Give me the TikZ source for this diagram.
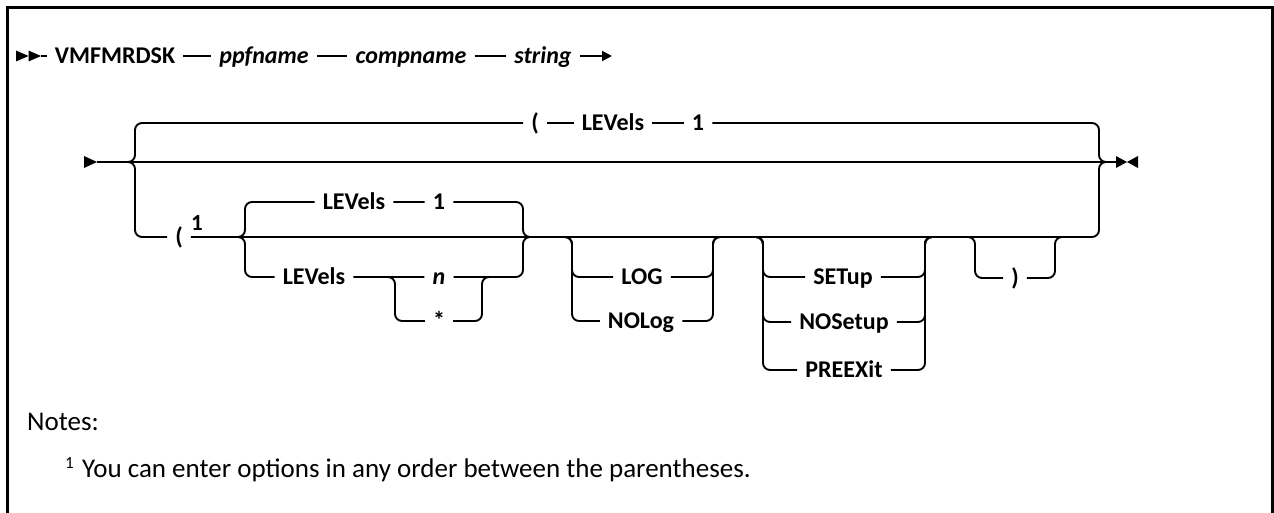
\documentclass[tikz,border=0pt]{standalone}
\usepackage{fontspec}
\setmainfont{Carlito}
\usetikzlibrary{arrows.meta,calc}

\tikzset{
  rail/.style={line width=1.9bp, rounded corners=7bp},
  kw/.style={font=\fontsize{24bp}{28bp}\selectfont\bfseries, inner xsep=8bp, inner ysep=0pt, text height=15.5bp, text depth=0pt},
  var/.style={kw, font=\fontsize{24bp}{28bp}\selectfont\bfseries\itshape},
  sup/.style={font=\fontsize{23bp}{26bp}\selectfont\bfseries, inner sep=0pt},
  note/.style={font=\fontsize{27bp}{32bp}\selectfont, inner sep=0pt, anchor=base west},
}

\begin{document}
\begin{tikzpicture}[x=1bp,y=-1bp]
  \useasboundingbox (0,0) rectangle (1274,513);
  % frame, open at the bottom
  \draw[line width=2.8bp] (7.5,513) -- (7.5,7.5) -- (1272.5,7.5) -- (1272.5,513);

  % first line
  \fill (16,50.5) -- (28.5,56) -- (16,61.5) -- cycle;
  \fill (28.5,50.5) -- (41,56) -- (28.5,61.5) -- cycle;
  \coordinate (r1s) at (41,56);
  \node[kw] (cmd) at (115,56) {VMFMRDSK};
  \node[var] (ppf) at (264,56) {ppfname};
  \node[var] (comp) at (411,56) {compname};
  \node[var] (str) at (543,56) {string};
  \coordinate (r1e) at (612,56);
  \draw[rail] (r1s) -- (cmd) -- (ppf) -- (comp) -- (str);
  \draw[rail, -{Triangle[length=10bp,width=10bp]}] (str) -- (r1e);

  % second line, main rail
  \fill (84,156) -- (97,162) -- (84,168) -- cycle;
  \coordinate (m0) at (97,162);
  \coordinate (jL) at (127,162);
  \coordinate (jR) at (1107,162);
  \coordinate (m1) at (1116,162);
  \draw[rail] (m0) -- (m1);
  \fill (1116,156) -- (1127,162) -- (1116,168) -- cycle;
  \fill (1138,156) -- (1127,162) -- (1138,168) -- cycle;

  % upper choice
  \node[kw] (tp) at (535,123) {(};
  \node[kw] (tlev) at (613,123) {LEVels};
  \node[kw] (tone) at (698,123) {1};
  \draw[rail] (jL) -- ++(8,0) |- (tp);
  \draw[rail] (tp) -- (tlev) -- (tone);
  \draw[rail] (tone) -| ([xshift=-8bp]jR) -- (jR);

  % lower choice
  \node[kw] (bp) at (179,237) {(};
  \node[sup] (bsup) at (197,223) {1};
  \coordinate (ijL) at (238,237);
  \coordinate (ijR) at (530,237);
  \coordinate (gL) at (565,237);
  \coordinate (gR) at (720,237);
  \coordinate (sL) at (753,237);
  \coordinate (sR) at (935,237);
  \coordinate (pL) at (967,237);
  \coordinate (pR) at (1062,237);
  \draw[rail] (jL) -- ++(8,0) |- (bp);
  \draw[rail] (bp) -- (ijL) -- (ijR) -- (gL) -- (gR) -- (sL) -- (sR) -- (pL) -- (pR)
    -| ([xshift=-8bp]jR) -- (jR);

  % LEVels choice
  \node[kw] (ilev) at (354,202) {LEVels};
  \node[kw] (ione) at (439,202) {1};
  \draw[rail] (ijL) -- ++(7,0) |- (ilev);
  \draw[rail] (ilev) -- (ione) -| ([xshift=-7bp]ijR) -- (ijR);
  \node[kw] (blev) at (314,277) {LEVels};
  \coordinate (nL) at (388,277);
  \coordinate (nR) at (490,277);
  \node[var] (nn) at (439,277) {n};
  \node[kw] (star) at (439,321) {*};
  \draw[rail] (ijL) -- ++(7,0) |- (blev);
  \draw[rail] (blev) -- (nL) -- (nn) -- (nR) -| ([xshift=-7bp]ijR) -- (ijR);
  \draw[rail] (nL) -- ++(7,0) |- (star);
  \draw[rail] (star) -| ([xshift=-8bp]nR) -- (nR);

  % LOG choice
  \node[kw] (log) at (642,277) {LOG};
  \node[kw] (nolog) at (641,321) {NOLog};
  \draw[rail] (gL) -- ++(7,0) |- (log);
  \draw[rail] (gL) -- ++(7,0) |- (nolog);
  \draw[rail] (log) -| ([xshift=-7bp]gR) -- (gR);
  \draw[rail] (nolog) -| ([xshift=-7bp]gR) -- (gR);

  % SETup choice
  \node[kw] (setup) at (843,277) {SETup};
  \node[kw] (nosetup) at (844,322) {NOSetup};
  \node[kw] (preexit) at (844,370) {PREEXit};
  \foreach \opt in {setup,nosetup,preexit} {
    \draw[rail] (sL) -- ++(10,0) |- (\opt);
    \draw[rail] (\opt) -| ([xshift=-10bp]sR) -- (sR);
  }

  % closing parenthesis
  \node[kw] (rp) at (1015,278) {)};
  \draw[rail] (pL) -- ++(8,0) |- (rp);
  \draw[rail] (rp) -| ([xshift=-7bp]pR) -- (pR);

  % notes
  \node[note] (notes) at (27,430) {Notes:};
  \node[note, font=\fontsize{17bp}{20bp}\selectfont] (fnsup) at (65,468) {1};
  \node[note] (fn) at (82,477) {You can enter options in any order between the parentheses.};
\end{tikzpicture}
\end{document}
